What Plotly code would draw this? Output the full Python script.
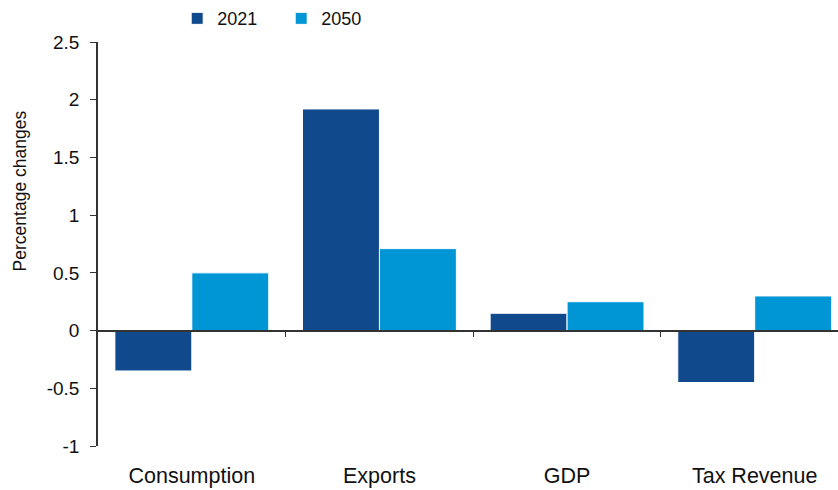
import plotly.graph_objects as go

categories = ["Consumption", "Exports", "GDP", "Tax Revenue"]
values_2021 = [-0.35, 1.92, 0.15, -0.45]
values_2050 = [0.50, 0.71, 0.25, 0.30]
y_ticks = [-1, -0.5, 0, 0.5, 1, 1.5, 2, 2.5]
y_tick_labels = ["-1", "-0.5", "0", "0.5", "1", "1.5", "2", "2.5"]

FONT = "Liberation Sans, Arial, sans-serif"
DARK = "#10498C"
LIGHT = "#0095D5"
AXIS = "#333333"
y_min, y_max = -1, 2.5

fig = go.Figure()
fig.add_trace(go.Bar(x=list(range(len(categories))), y=values_2021, name="2021",
                     marker=dict(color=DARK, line=dict(color="white", width=1))))
fig.add_trace(go.Bar(x=list(range(len(categories))), y=values_2050, name="2050",
                     marker=dict(color=LIGHT, line=dict(color="white", width=1))))
# empty trace so the zero-line axis (x2) gets drawn
fig.add_trace(go.Scatter(x=[None], y=[None], xaxis="x2", mode="markers",
                         showlegend=False, hoverinfo="skip"))

x_range = [-0.5, 3.444]

fig.update_layout(
    width=838, height=490,
    margin=dict(l=98, r=0, t=42, b=44),
    plot_bgcolor="white", paper_bgcolor="white",
    barmode="group", bargap=0.18, bargroupgap=0,
    font=dict(family=FONT, size=17, color="#111"),
    showlegend=True,
    legend=dict(orientation="h", x=0.107, xanchor="left", y=1.012, yanchor="bottom",
                font=dict(size=18), itemwidth=30, traceorder="normal",
                entrywidth=59, entrywidthmode="pixels",
                bgcolor="rgba(0,0,0,0)"),
    xaxis=dict(range=x_range, tickvals=list(range(len(categories))), ticktext=categories,
               showline=False, showgrid=False, zeroline=False, ticks="",
               ticklabelstandoff=14, tickfont=dict(size=21.5)),
    # zero line carrying the category-boundary ticks
    xaxis2=dict(range=x_range, overlaying="x", anchor="free",
                position=(0 - y_min) / (y_max - y_min),
                tickvals=[0.5, 1.5, 2.5], showticklabels=False,
                ticks="outside", ticklen=6, tickcolor=AXIS, tickwidth=1,
                showline=True, linecolor=AXIS, linewidth=1.5,
                showgrid=False, zeroline=False),
    yaxis=dict(range=[y_min, y_max], tickvals=y_ticks, ticktext=y_tick_labels,
               showline=True, linecolor=AXIS, linewidth=1.5,
               ticks="outside", ticklen=6, tickcolor=AXIS,
               showgrid=False, zeroline=False, tickfont=dict(size=19),
               ticklabelstandoff=7),
    annotations=[dict(text="Percentage changes", textangle=-90, x=-0.105, xref="paper",
                      xanchor="center", y=0.631, yref="paper", yanchor="middle",
                      showarrow=False, font=dict(size=17.5))],
)

fig.write_html("out.html")
